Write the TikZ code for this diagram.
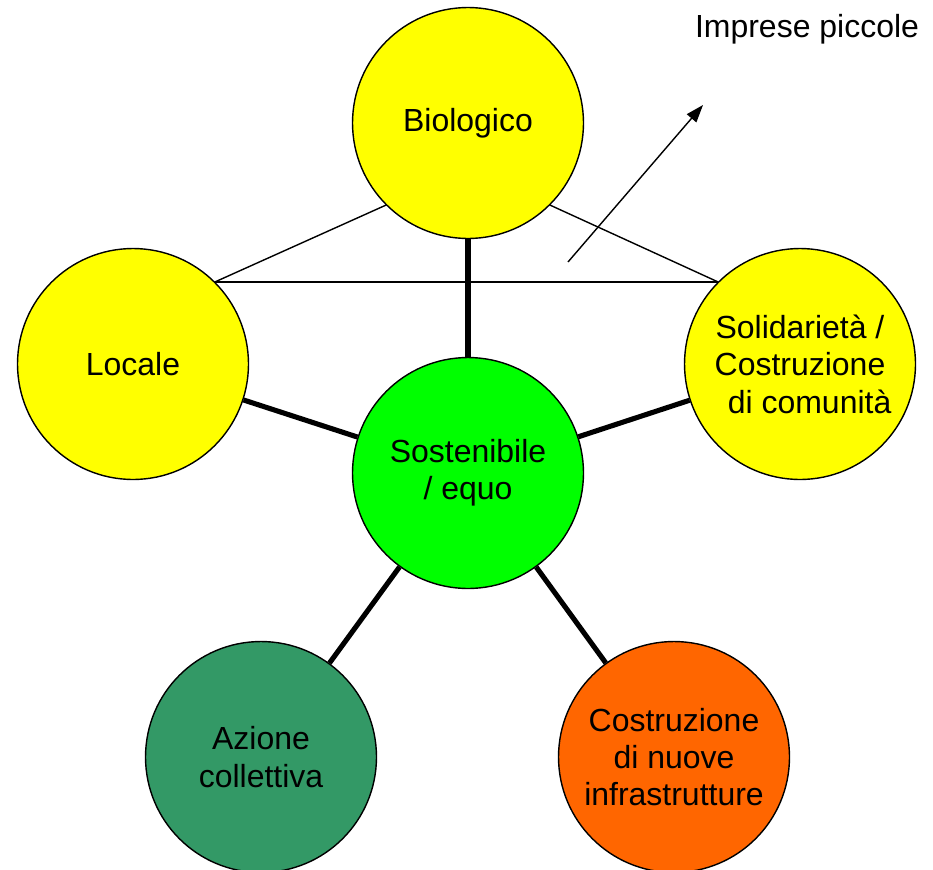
\documentclass[tikz,border=0pt]{standalone}
\usepackage{fontspec}
\setmainfont{Liberation Sans}
\usepackage{tikz}
\usetikzlibrary{arrows.meta, positioning}
\definecolor{bioyellow}{RGB}{255, 255, 0}
\definecolor{fairgreen}{RGB}{0, 255, 0}
\definecolor{actiongreen}{RGB}{51, 153, 102}
\definecolor{buildorange}{RGB}{255, 102, 0}

\begin{document}
\begin{tikzpicture}[
    x=0.02cm, y=-0.02cm,
    value/.style={draw, circle, minimum size=4.62cm, line width=0.8pt, align=center,
        font=\fontsize{18.2}{21.3}\selectfont},
    link/.style={line width=2.9pt},
    tie/.style={line width=0.8pt},
    arrow/.style={-{Triangle[length=10pt, width=7pt]}, line width=0.8pt}
]
\useasboundingbox (0,0) rectangle (933,869);

% Center
\node[value, fill=fairgreen] (sost) at (468,473) {Sostenibile\\/ equo};

% Outer values
\node[value, fill=bioyellow] (bio) at (468,123) {Biologico};
\node[value, fill=bioyellow] (loc) at (133,364) {Locale};
\node[value, fill=bioyellow] (sol) at (800,364) {Solidarietà /\\Costruzione\\\hspace*{0.6em}di comunità};
\node[value, fill=actiongreen] (azi) at (261,757) {Azione\\collettiva};
\node[value, fill=buildorange] (inf) at (674,757) {Costruzione\\di nuove\\infrastrutture};

% Spokes
\draw[link] (bio) -- (sost);
\draw[link] (loc) -- (sost);
\draw[link] (sol) -- (sost);
\draw[link] (azi) -- (sost);
\draw[link] (inf) -- (sost);

% Triangle
\draw[tie] (loc.45) -- (bio.225);
\draw[tie] (bio.-45) -- (sol.135);
\draw[tie] (loc.45) -- (sol.135);

% Small firms
\node[font=\fontsize{18.2}{21.3}\selectfont] (imp) at (807,29) {Imprese piccole};
\coordinate (from) at (568,262);
\coordinate (to) at (703,105);
\draw[arrow] (from) -- (to);

\end{tikzpicture}
\end{document}
